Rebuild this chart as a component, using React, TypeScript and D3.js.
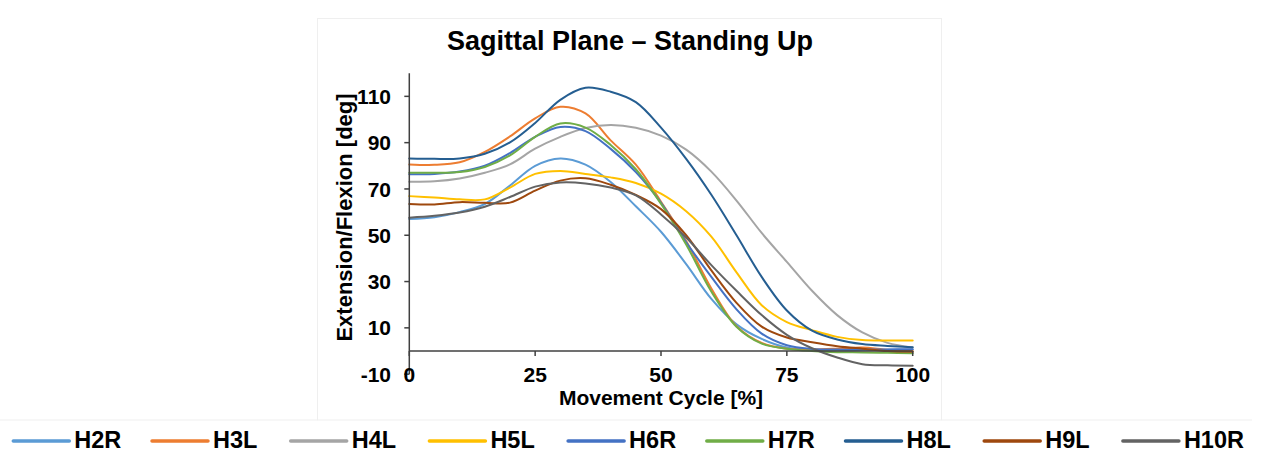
import React from "react";
import * as d3 from "d3";

const cycle = [0, 5, 10, 15, 20, 25, 30, 35, 40, 45, 50, 55, 60, 65, 70, 75, 80, 85, 90, 95, 100];

const H2R = [57, 57.8, 60, 63.5, 71.5, 80, 83.2, 80.5, 73, 62.5, 51.5, 37.5, 22.5, 11.5, 5.2, 1.5, 0.6, 0.5, 0.5, 0.5, 0.5];
const H3L = [80.6, 80.4, 81.5, 86, 92.7, 100.5, 105.5, 102.6, 91, 80.5, 64.5, 47.5, 27, 10.7, 3.5, 1, 0.7, 1, 1.5, 0.5, 0];
const H4L = [73.1, 73.3, 74.5, 77, 80.6, 87.4, 92.5, 96.3, 97.6, 96.4, 93, 87, 77.5, 65, 51, 38.5, 26, 15.5, 8, 3.5, 1.5];
const H5L = [66.9, 66.3, 65.5, 65.5, 70.6, 76.5, 77.8, 76.5, 75, 72.6, 68, 60.4, 49.4, 34, 19.8, 12.5, 9, 6.1, 4.7, 4.5, 4.5];
const H6R = [76.3, 76.5, 77.5, 80, 85.5, 92.5, 96.8, 95, 87.3, 77.3, 64, 47, 32, 18, 7.5, 2.5, 0.9, 0.6, 0.6, 0.7, 0.8];
const H7R = [77, 77, 77.3, 79.5, 84.5, 92.5, 98.3, 96.5, 89, 78.5, 63.6, 46, 25.7, 10.5, 3.2, 1, 0, -0.5, -0.6, -0.8, -1];
const H8L = [83.2, 83, 83.2, 85.2, 90.1, 98.5, 108.5, 113.7, 112, 107.5, 96.5, 83, 67.5, 50, 32, 17.5, 8.8, 5, 3, 2.2, 1.6];
const H9L = [63.5, 63.3, 64.3, 64, 64.1, 69.3, 73.6, 74.6, 71.8, 67.4, 61.3, 50, 34.8, 20.8, 10.5, 5.8, 3.8, 2.1, 1, 0, -0.3];
const H10R = [57.6, 58.4, 59.8, 62.3, 66.5, 71, 72.8, 72.4, 70.6, 67.2, 59, 49, 37.1, 26, 15.5, 7, 1.2, -2.8, -5.7, -6.2, -6.4];

const seriesNames = ["H2R", "H3L", "H4L", "H5L", "H6R", "H7R", "H8L", "H9L", "H10R"];
const seriesValues = [H2R, H3L, H4L, H5L, H6R, H7R, H8L, H9L, H10R];
const seriesColors = ["#5b9bd5", "#ed7d31", "#a5a5a5", "#ffc000", "#4472c4", "#70ad47", "#255e91", "#9e480e", "#636363"];

const xTicks = [0, 25, 50, 75, 100];
const yTicks = [-10, 10, 30, 50, 70, 90, 110];

const titleText = "Sagittal Plane – Standing Up";
const xTitle = "Movement Cycle [%]";
const yTitle = "Extension/Flexion [deg]";

const FONT = "'Liberation Sans', Arial, sans-serif";

export default function App() {
  const W = 1261;
  const H = 453;
  const x = d3.scaleLinear().domain([0, 100]).range([409.3, 912.7]);
  const y = d3.scaleLinear().domain([-10, 120]).range([374.15, 73.2]);
  const line = d3
    .line<number>()
    .x((_, i) => x(cycle[i]))
    .y((d) => y(d))
    .curve(d3.curveCatmullRom.alpha(0.5));

  const axisColor = "#404040";
  const legendStart = 13.3;
  const legendStep = 138.7;

  return (
    <div style={{ position: "absolute", left: 0, top: 0 }}>
      <svg width={W} height={H} style={{ display: "block", background: "#fff" }}>
        {/* faint frames */}
        <rect x={317.5} y={18.5} width={624} height={401.5} fill="none" stroke="#efefef" strokeWidth={1} />
        <line x1={0} x2={317.5} y1={420} y2={420} stroke="#efefef" strokeWidth={1} />
        <line x1={941.5} x2={1252} y1={420} y2={420} stroke="#efefef" strokeWidth={1} />

        <text x={630} y={50} textAnchor="middle" fontFamily={FONT} fontWeight="bold" fontSize={27} fill="#000">
          {titleText}
        </text>

        {/* series */}
        {seriesValues.map((vals, i) => (
          <path key={seriesNames[i]} d={line(vals) || ""} fill="none" stroke={seriesColors[i]} strokeWidth={2} strokeLinejoin="round" strokeLinecap="round" />
        ))}

        {/* y axis */}
        <line x1={x(0)} x2={x(0)} y1={y(120)} y2={y(-10)} stroke={axisColor} strokeWidth={1.5} />
        {yTicks.map((t) => (
          <g key={"y" + t}>
            <line x1={x(0) - 5} x2={x(0)} y1={y(t)} y2={y(t)} stroke={axisColor} strokeWidth={1.5} />
            <text x={391} y={y(t)} dy="0.36em" textAnchor="end" fontFamily={FONT} fontWeight="bold" fontSize={21} fill="#000">
              {t}
            </text>
          </g>
        ))}

        {/* x axis */}
        <line x1={x(0)} x2={x(100)} y1={y(0)} y2={y(0)} stroke={axisColor} strokeWidth={1.5} />
        {xTicks.map((t) => (
          <g key={"x" + t}>
            <line x1={x(t)} x2={x(t)} y1={y(0)} y2={y(0) + 5} stroke={axisColor} strokeWidth={1.5} />
            <text x={x(t)} y={382} textAnchor="middle" fontFamily={FONT} fontWeight="bold" fontSize={21} fill="#000">
              {t}
            </text>
          </g>
        ))}

        <text x={661} y={405} textAnchor="middle" fontFamily={FONT} fontWeight="bold" fontSize={21} fill="#000">
          {xTitle}
        </text>
        <text transform="translate(352,217.5) rotate(-90)" textAnchor="middle" fontFamily={FONT} fontWeight="bold" fontSize={22} fill="#000">
          {yTitle}
        </text>

        {/* legend */}
        {seriesNames.map((n, i) => {
          const lx = legendStart + i * legendStep;
          return (
            <g key={"lg" + n}>
              <line x1={lx} x2={lx + 56} y1={441} y2={441} stroke={seriesColors[i]} strokeWidth={3.5} strokeLinecap="round" />
              <text x={lx + 61} y={448} fontFamily={FONT} fontWeight="bold" fontSize={23.5} fill="#000">
                {n}
              </text>
            </g>
          );
        })}
      </svg>
    </div>
  );
}
